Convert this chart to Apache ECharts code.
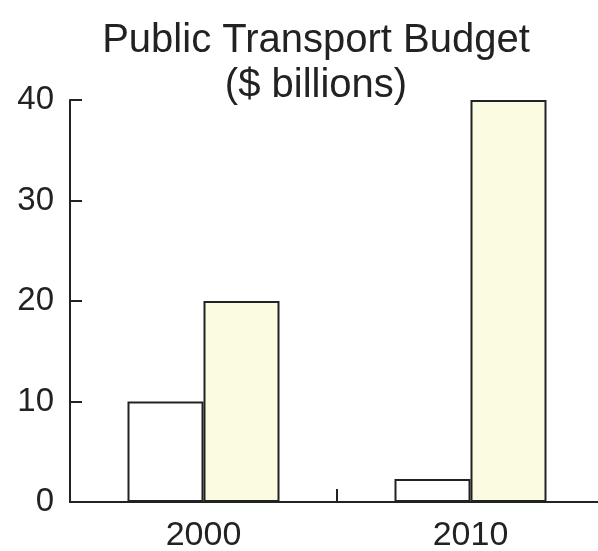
<!DOCTYPE html>
<html>
<head>
<meta charset="utf-8">
<script src="https://cdn.jsdelivr.net/npm/echarts@6/dist/echarts.min.js"></script>
<style>
  html, body { margin: 0; padding: 0; background: #ffffff; }
  #chart { width: 598px; height: 551px; }
</style>
</head>
<body>
<div id="chart"></div>
<script>
// Budget by year, in $ billions
const years = ['2000', '2010'];
const budgetA = [10, 2.3];   // open (white) bars
const budgetB = [20, 40];    // shaded (cream) bars
const yTicks = [0, 10, 20, 30, 40];

const ink = '#222222';
const font = '"Liberation Sans", Arial, sans-serif';

const chart = echarts.init(document.getElementById('chart'), null, { renderer: 'canvas' });
chart.setOption({
  animation: false,
  backgroundColor: '#ffffff',
  title: {
    text: 'Public Transport Budget\n($ billions)',
    left: 311,
    top: 13,
    textAlign: 'center',
    textStyle: {
      fontFamily: font,
      fontSize: 40,
      fontWeight: 'normal',
      lineHeight: 45,
      color: ink
    }
  },
  grid: {
    left: 70, top: 100, width: 534, height: 402,
    containLabel: false,
    outerBoundsMode: 'none'
  },
  xAxis: {
    type: 'category',
    data: years,
    boundaryGap: true,
    axisLine: { lineStyle: { color: ink, width: 2 } },
    axisTick: { show: true, interval: 0, inside: true, length: 13, lineStyle: { color: ink, width: 2 } },
    axisLabel: { fontFamily: font, fontSize: 34, color: ink, margin: 17 }
  },
  yAxis: {
    type: 'value',
    min: yTicks[0],
    max: yTicks[yTicks.length - 1],
    interval: 10,
    splitLine: { show: false },
    axisLine: { show: true, lineStyle: { color: ink, width: 2 } },
    axisTick: { show: true, inside: true, length: 12, lineStyle: { color: ink, width: 2 } },
    axisLabel: { fontFamily: font, fontSize: 33, color: ink, margin: 16 }
  },
  series: [
    {
      type: 'bar',
      data: budgetA,
      barWidth: 76,
      barGap: '0%',
      itemStyle: { color: '#ffffff', borderColor: ink, borderWidth: 2 }
    },
    {
      type: 'bar',
      data: budgetB,
      barWidth: 76,
      itemStyle: { color: '#fbfbe2', borderColor: ink, borderWidth: 2 }
    }
  ]
});
</script>
</body>
</html>
